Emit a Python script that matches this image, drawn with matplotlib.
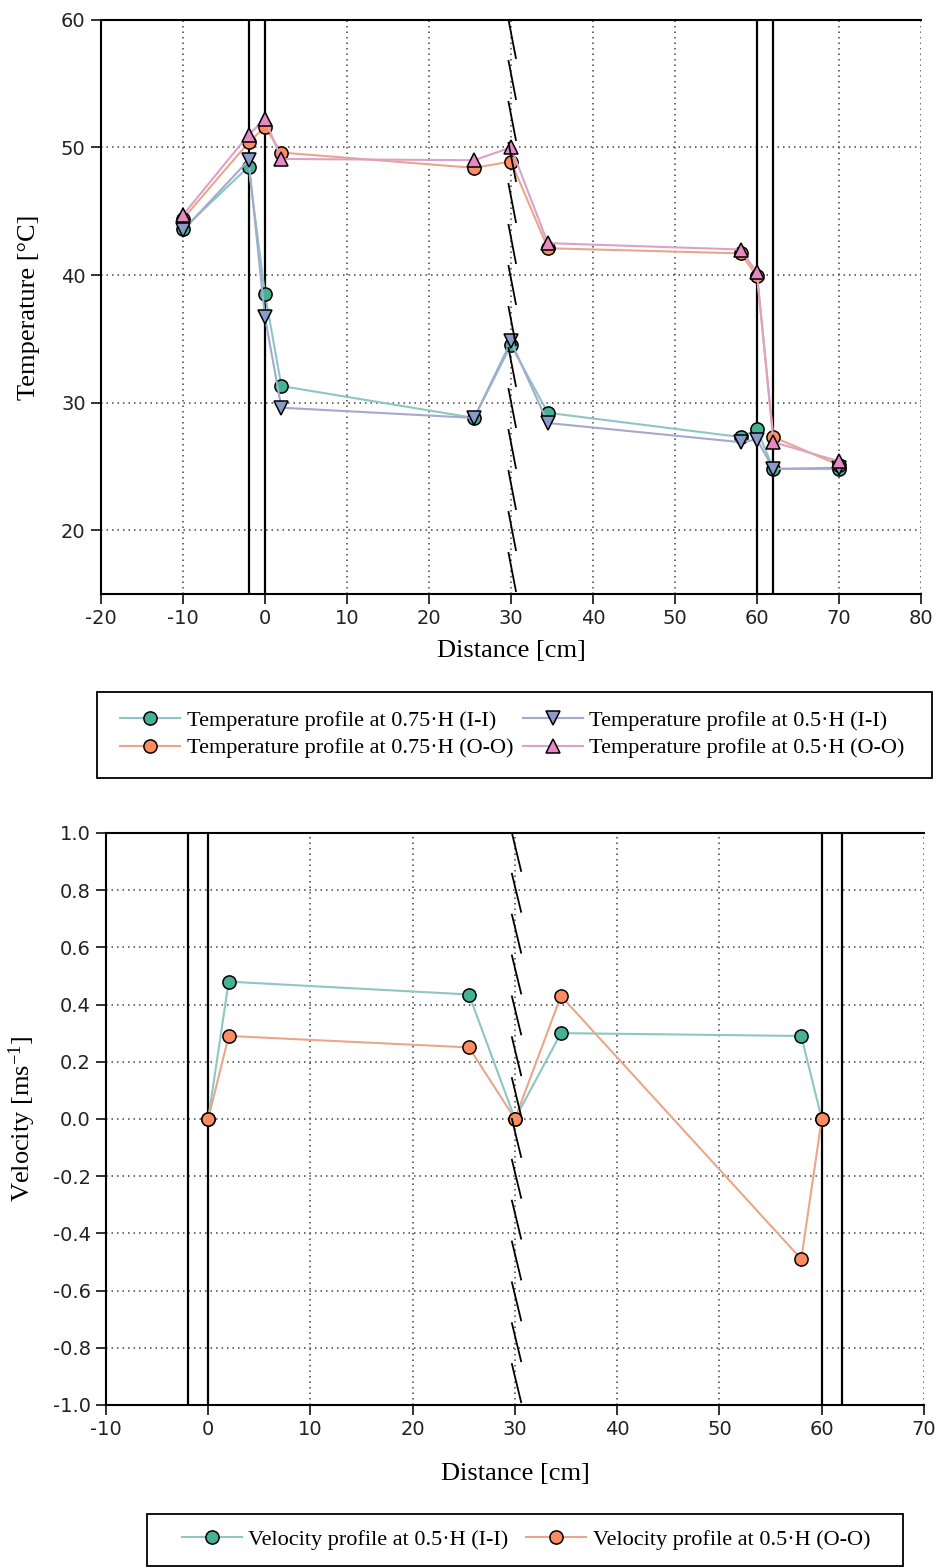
import numpy as np
import matplotlib.pyplot as plt
from matplotlib.patches import Rectangle

plt.rcParams['font.family'] = ['Liberation Serif', 'DejaVu Serif']
plt.rcParams['axes.unicode_minus'] = False
plt.rcParams['mathtext.default'] = 'regular'

# profils de température (distance en cm, température en °C)
dist_T = [-10, -2, 0, 2, 25.5, 30, 34.5, 58, 60, 62, 70]
T_075_II = [43.6, 48.5, 38.5, 31.3, 28.8, 34.5, 29.2, 27.3, 27.9, 24.8, 24.8]
T_075_OO = [44.4, 50.4, 51.6, 49.6, 48.4, 48.9, 42.1, 41.7, 39.9, 27.3, 25.1]
T_05_II = [43.5, 49.0, 36.7, 29.6, 28.8, 34.8, 28.4, 26.9, 27.1, 24.8, 24.9]
T_05_OO = [44.7, 51.0, 52.2, 49.1, 49.0, 50.0, 42.5, 42.0, 40.2, 26.9, 25.4]

# profils de vitesse (m/s)
dist_V = [0, 2, 25.5, 30, 34.5, 58, 60]
V_05_II = [0.0, 0.48, 0.435, 0.0, 0.30, 0.29, 0.0]
V_05_OO = [0.0, 0.29, 0.25, 0.0, 0.43, -0.49, 0.0]

# graduations
T_ticks = [20, 30, 40, 50, 60]
V_ticks = [-1.0, -0.8, -0.6, -0.4, -0.2, 0.0, 0.2, 0.4, 0.6, 0.8, 1.0]
V_labels = ['%.1f' % v for v in V_ticks]

# parois et joint
walls = [-2, 0, 60, 62]
joint_x = 30

# couleurs : (remplissage marqueur, trait)
GREEN = ('#45b393', '#8cc7c3')
ORANGE = ('#fc8d62', '#e8a78a')
BLUE = ('#8a9acb', '#a3aacb')
PINK = ('#e78ac3', '#dca1c8')


def profile(ax, x, y, colors, marker, label, ms=9.5):
    ax.plot(x, y, color=colors[1], lw=1.5, marker=marker, ms=ms,
            mfc=colors[0], mec='black', mew=1.1, label=label, zorder=3)


def walls_and_joint(ax):
    for w in walls:
        ax.axvline(w, color='black', lw=1.6, zorder=2)
    n = 14
    tr = ax.get_xaxis_transform()
    for i in range(n):
        y0 = 1 - i / n
        y1 = y0 - 0.93 / n
        ax.plot([joint_x - 0.3, joint_x + 0.6], [y0, y1], color='black',
                lw=1.3, transform=tr, clip_on=False, zorder=4)


def style_axes(ax):
    ax.spines['right'].set_visible(False)
    for s in ['left', 'bottom', 'top']:
        ax.spines[s].set_linewidth(1.5)
    ax.grid(True, linestyle=(0, (1, 2.6)), color='#444444', lw=1.1)
    ax.set_axisbelow(True)
    ax.tick_params(direction='out', length=7, width=1.3, pad=4,
                   labelsize=14, colors='#222222')
    for lab in ax.get_xticklabels() + ax.get_yticklabels():
        lab.set_fontfamily('DejaVu Sans')


fig = plt.figure(figsize=(9.37, 15.68), dpi=100)

# --- températures
ax1 = fig.add_axes([0.1078, 0.6212, 0.8751, 0.3661])
profile(ax1, dist_T, T_075_II, GREEN, 'o', 'Temperature profile at 0.75·H (I-I)')
profile(ax1, dist_T, T_075_OO, ORANGE, 'o', 'Temperature profile at 0.75·H (O-O)')
profile(ax1, dist_T, T_05_II, BLUE, 'v', 'Temperature profile at 0.5·H (I-I)', ms=10)
profile(ax1, dist_T, T_05_OO, PINK, '^', 'Temperature profile at 0.5·H (O-O)', ms=10)
walls_and_joint(ax1)
ax1.set_xlim(-20, 80)
ax1.set_ylim(15, 60)
ax1.set_xticks(np.arange(-20, 81, 10))
ax1.set_yticks(T_ticks)
style_axes(ax1)
ax1.set_xlabel('Distance [cm]', fontsize=19)
ax1.set_ylabel('Temperature [°C]', fontsize=19)
ax1.xaxis.set_label_coords(0.5, -0.080)
ax1.yaxis.set_label_coords(-0.074, 0.5)

h1, l1 = ax1.get_legend_handles_labels()
fig.legend(h1, l1, loc='center', bbox_to_anchor=(0.547, 0.5316), ncol=2,
           frameon=False, fontsize=16, borderpad=0, labelspacing=0.3,
           handlelength=2.7, handletextpad=0.3, columnspacing=0.4,
           numpoints=1)
fig.patches.append(Rectangle((97 / 937, 1 - 778 / 1568), (932 - 97) / 937,
                             86 / 1568, transform=fig.transFigure,
                             fill=False, ec='black', lw=1.3))

# --- vitesses
ax2 = fig.add_axes([0.1131, 0.1040, 0.8730, 0.3648])
profile(ax2, dist_V, V_05_II, GREEN, 'o', 'Velocity profile at 0.5·H (I-I)')
profile(ax2, dist_V, V_05_OO, ORANGE, 'o', 'Velocity profile at 0.5·H (O-O)')
walls_and_joint(ax2)
ax2.set_xlim(-10, 70)
ax2.set_ylim(-1.0, 1.0)
ax2.set_xticks(np.arange(-10, 71, 10))
ax2.set_yticks(V_ticks)
ax2.set_yticklabels(V_labels)
style_axes(ax2)
ax2.set_xlabel('Distance [cm]', fontsize=19)
ax2.set_ylabel(r'Velocity [ms$^{-1}$]', fontsize=19)
ax2.xaxis.set_label_coords(0.5, -0.101)
ax2.yaxis.set_label_coords(-0.083, 0.5)

h2, l2 = ax2.get_legend_handles_labels()
fig.legend(h2, l2, loc='center', bbox_to_anchor=(0.5614, 0.0179), ncol=2,
           frameon=False, fontsize=16, borderpad=0,
           handlelength=2.7, handletextpad=0.3, columnspacing=0.8,
           numpoints=1)
fig.patches.append(Rectangle((147 / 937, 2 / 1568), (903 - 147) / 937,
                             (1566 - 1514) / 1568, transform=fig.transFigure,
                             fill=False, ec='black', lw=1.3))

fig.savefig('out.png', dpi=100)
